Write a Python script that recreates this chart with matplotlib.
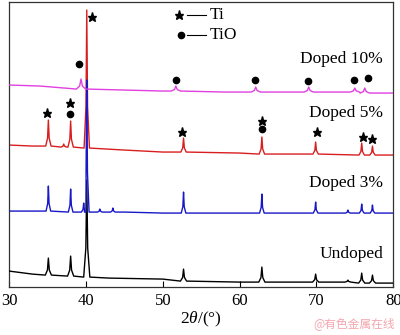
# encoding: utf-8
# XRD patterns of undoped / doped samples, Ti and TiO peaks marked
import matplotlib
matplotlib.use("Agg")
import matplotlib.pyplot as plt

plt.rcParams['font.family'] = ['Liberation Serif', 'DejaVu Serif']
plt.rcParams['mathtext.fontset'] = 'custom'
plt.rcParams['mathtext.rm'] = 'Liberation Serif'
plt.rcParams['mathtext.it'] = 'Liberation Serif:italic'

# intensities in arbitrary units, curves already stacked
# baseline points (2theta, intensity)
undoped_bx = [30, 33, 43, 50, 60, 80]
undoped_by = [16, 13, 9, 8, 5, 4]
# peaks: position, top, foot
undoped_pos = [35.1, 38.0, 40.1, 52.7, 62.9, 69.9, 74.1, 75.9, 77.3]
undoped_top = [29, 31, 107, 18, 20, 13, 7, 14, 12]
undoped_foot = [12, 11, 10, 6, 5, 5, 5, 4, 4]

doped3_bx = [30, 33, 45, 50, 60, 80]
doped3_by = [76, 76, 75, 74, 74, 74]
doped3_pos = [35.1, 38.0, 39.7, 40.1, 41.8, 43.5, 52.7, 62.9, 69.9, 74.1, 75.9, 77.3]
doped3_top = [101, 98, 84, 207, 78, 79, 95, 93, 85, 77, 83, 82]
doped3_foot = [76, 75, 75, 75, 75, 75, 74, 74, 74, 74, 74, 74]

doped5_bx = [30, 33, 45, 50, 60, 80]
doped5_by = [142, 141, 137, 135, 134, 132]
doped5_pos = [35.1, 37.1, 38.0, 40.1, 52.7, 62.9, 69.9, 75.9, 77.3]
doped5_top = [167, 143, 166, 277, 149, 150, 145, 144, 141]
doped5_foot = [141, 140, 140, 139, 135, 133, 133, 132, 132]

doped10_bx = [30, 34, 45, 50, 58, 80]
doped10_by = [202, 201, 197, 196, 195, 194]
doped10_pos = [39.35, 51.7, 62.1, 69.0, 75.0, 76.3]
doped10_top = [208, 201, 200, 200, 199, 199]
doped10_foot = [198, 196, 195, 195, 195, 194]

# phase markers
ti_x = [40.8, 34.96, 37.92, 52.53, 62.9, 70.1, 76.04, 77.27]
ti_y = [270, 174, 184, 155, 166, 155, 150, 148]
tio_x = [39.09, 51.74, 62.05, 68.96, 74.96, 76.66, 37.92, 62.9]
tio_y = [223, 207, 207, 206, 207, 209, 173, 158]

labels = ["Doped 10%", "Doped 5%", "Doped 3%", "Undoped"]
label_y = [228, 174, 104, 33]


def pattern(bx, by, pos, top, foot, w):
    # baseline points plus a pointed outline for every peak
    pts = list(zip(bx, by))
    for c, t, f in zip(pos, top, foot):
        h = t - f
        pts += [(c - w, f), (c - w * 0.3, f + 0.3 * h), (c, t),
                (c + w * 0.3, f + 0.3 * h), (c + w, f)]
    pts.sort()
    return [p[0] for p in pts], [p[1] for p in pts]


fig = plt.figure(figsize=(4.0, 3.35), dpi=100)
ax = fig.add_axes([0.023, 0.143, 0.96, 0.851])

lw = 1.0
x, y = pattern(doped5_bx, doped5_by, doped5_pos, doped5_top, doped5_foot, 0.35)
ax.plot(x, y, color='#d81e1e', lw=lw, zorder=2)
x, y = pattern(undoped_bx, undoped_by, undoped_pos, undoped_top, undoped_foot, 0.4)
ax.plot(x, y, color='black', lw=lw, zorder=3)
x, y = pattern(doped3_bx, doped3_by, doped3_pos, doped3_top, doped3_foot, 0.3)
ax.plot(x, y, color='#1818c8', lw=lw, zorder=4)
x, y = pattern(doped10_bx, doped10_by, doped10_pos, doped10_top, doped10_foot, 0.6)
ax.plot(x, y, color='#e040e0', lw=lw, zorder=4)

ax.plot(ti_x, ti_y, ls='none', marker='*', ms=6.5, color='black', zorder=5)
ax.plot(tio_x, tio_y, ls='none', marker='o', ms=4.5, color='black', zorder=5)

# legend drawn by hand
ax.plot([52.1], [272], marker='*', ms=6.5, color='black')
ax.plot([53.2, 55.6], [272, 272], color='black', lw=0.8)
ax.text(56.1, 272, "Ti", fontsize=12.5, va='center')
ax.plot([52.4], [252], marker='o', ms=4.5, color='black')
ax.plot([53.2, 55.6], [252, 252], color='black', lw=0.8)
ax.text(56.1, 252, "TiO", fontsize=12.5, va='center')

for lab, yy in zip(labels, label_y):
    ax.text(78.7, yy, lab, fontsize=12.5, ha='right', va='center')

ax.set_xlim(30, 80)
ax.set_ylim(0, 285)
ax.set_xticks([30, 40, 50, 60, 70, 80])
ax.set_yticks([])
ax.tick_params(axis='x', direction='in', length=4, labelsize=12, pad=4)
for sp in ax.spines.values():
    sp.set_color('#333333')
    sp.set_linewidth(0.9)
ax.set_xlabel(r'$\mathit{2\theta}$/(°)', fontsize=12.5, labelpad=1)

fig.text(0.988, 0.035, "@有色金属在线", fontsize=8.5, color='#f2a6ae', ha='right',
         va='center', family=['Noto Sans CJK SC', 'DejaVu Sans'])

fig.savefig("out.png", dpi=100)
